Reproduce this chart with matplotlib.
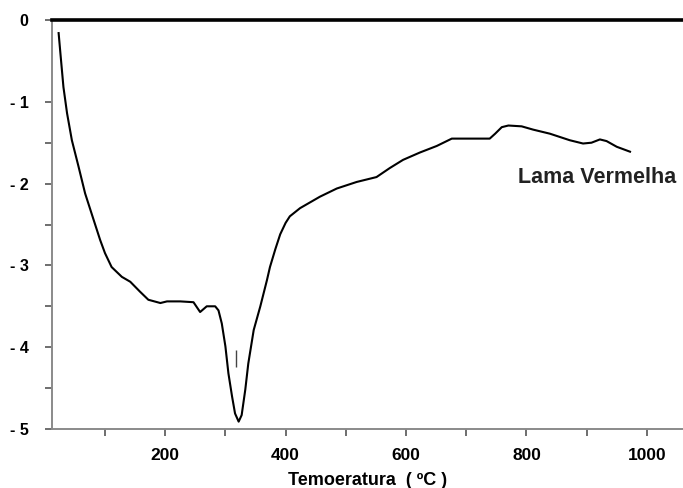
import matplotlib
matplotlib.use("Agg")
import matplotlib.pyplot as plt
from matplotlib.ticker import FixedLocator, NullFormatter

# Data (temperature in °C, signal)
temp = [23, 26, 31, 37, 45, 56, 67, 81, 92, 100, 111, 128, 142, 158, 172, 192,
        203, 225, 247, 258, 269, 283, 288.5, 294, 300, 305, 311, 316, 322, 327,
        333, 338, 347, 358, 369, 374, 383, 391, 400, 407, 424, 457, 485, 518,
        551, 573, 595, 623, 651, 676, 706, 739, 748, 759, 770, 792, 811, 839,
        872, 894, 908, 922, 933, 950, 972]
signal = [-0.16, -0.41, -0.82, -1.14, -1.47, -1.79, -2.12, -2.44, -2.69, -2.85,
          -3.02, -3.14, -3.20, -3.32, -3.42, -3.46, -3.44, -3.44, -3.45, -3.57,
          -3.50, -3.50, -3.55, -3.71, -3.99, -4.32, -4.60, -4.81, -4.91, -4.83,
          -4.52, -4.20, -3.79, -3.50, -3.18, -3.02, -2.80, -2.62, -2.48, -2.40,
          -2.30, -2.16, -2.06, -1.98, -1.92, -1.81, -1.71, -1.62, -1.54, -1.45,
          -1.45, -1.45, -1.39, -1.31, -1.29, -1.30, -1.34, -1.39, -1.47, -1.51,
          -1.50, -1.46, -1.48, -1.55, -1.61]

major_x = [200, 400, 600, 800, 1000]
minor_x = [100, 300, 500, 700, 900]
major_y = [0, -1, -2, -3, -4, -5]
ytick_labels = ["0", "- 1", "- 2", "- 3", "- 4", "- 5"]
minor_y = [-1.5, -2.5, -3.5, -4.5]

mark_x = 318
mark_y = (-4.03, -4.24)

series_label = "Lama Vermelha"
label_pos = (786, -1.93)
xlabel = "Temoeratura  ( ºC )"

plt.rcParams['font.family'] = ['Liberation Sans', 'DejaVu Sans']

fig = plt.figure(figsize=(6.83, 4.88), dpi=100)
ax = fig.add_axes([52/683, 1 - 429/488, 1 - 52/683, (429 - 20)/488])

ax.plot(temp, signal, color='black', lw=1.5)
ax.vlines(mark_x, mark_y[1], mark_y[0], color='#444444', lw=1.0)

ax.set_xlim(12, 1060)
ax.set_ylim(-5, 0)

ax.spines['right'].set_visible(False)
ax.spines['top'].set_color('black')
ax.spines['top'].set_linewidth(2.6)
for s in ('left', 'bottom'):
    ax.spines[s].set_color('#8a8a8a')
    ax.spines[s].set_linewidth(1.4)

ax.xaxis.set_major_locator(FixedLocator(major_x))
ax.xaxis.set_minor_locator(FixedLocator(minor_x))
ax.xaxis.set_minor_formatter(NullFormatter())
ax.set_xticklabels([str(v) for v in major_x], fontweight='bold', fontsize=12.5)
ax.yaxis.set_major_locator(FixedLocator(major_y))
ax.yaxis.set_minor_locator(FixedLocator(minor_y))
ax.set_yticklabels(ytick_labels, fontweight='bold', fontsize=11.5)

ax.tick_params(axis='both', which='both', direction='out', length=5,
               width=1.2, color='#555555')
ax.tick_params(axis='x', which='major', pad=9)
ax.tick_params(axis='y', which='major', pad=12)

ax.set_xlabel(xlabel, fontweight='bold', fontsize=13, labelpad=6)

ax.text(label_pos[0], label_pos[1], series_label, fontweight='bold',
        fontsize=15.5, va='center', ha='left', color='#222222')

fig.savefig("out.png", dpi=100)
